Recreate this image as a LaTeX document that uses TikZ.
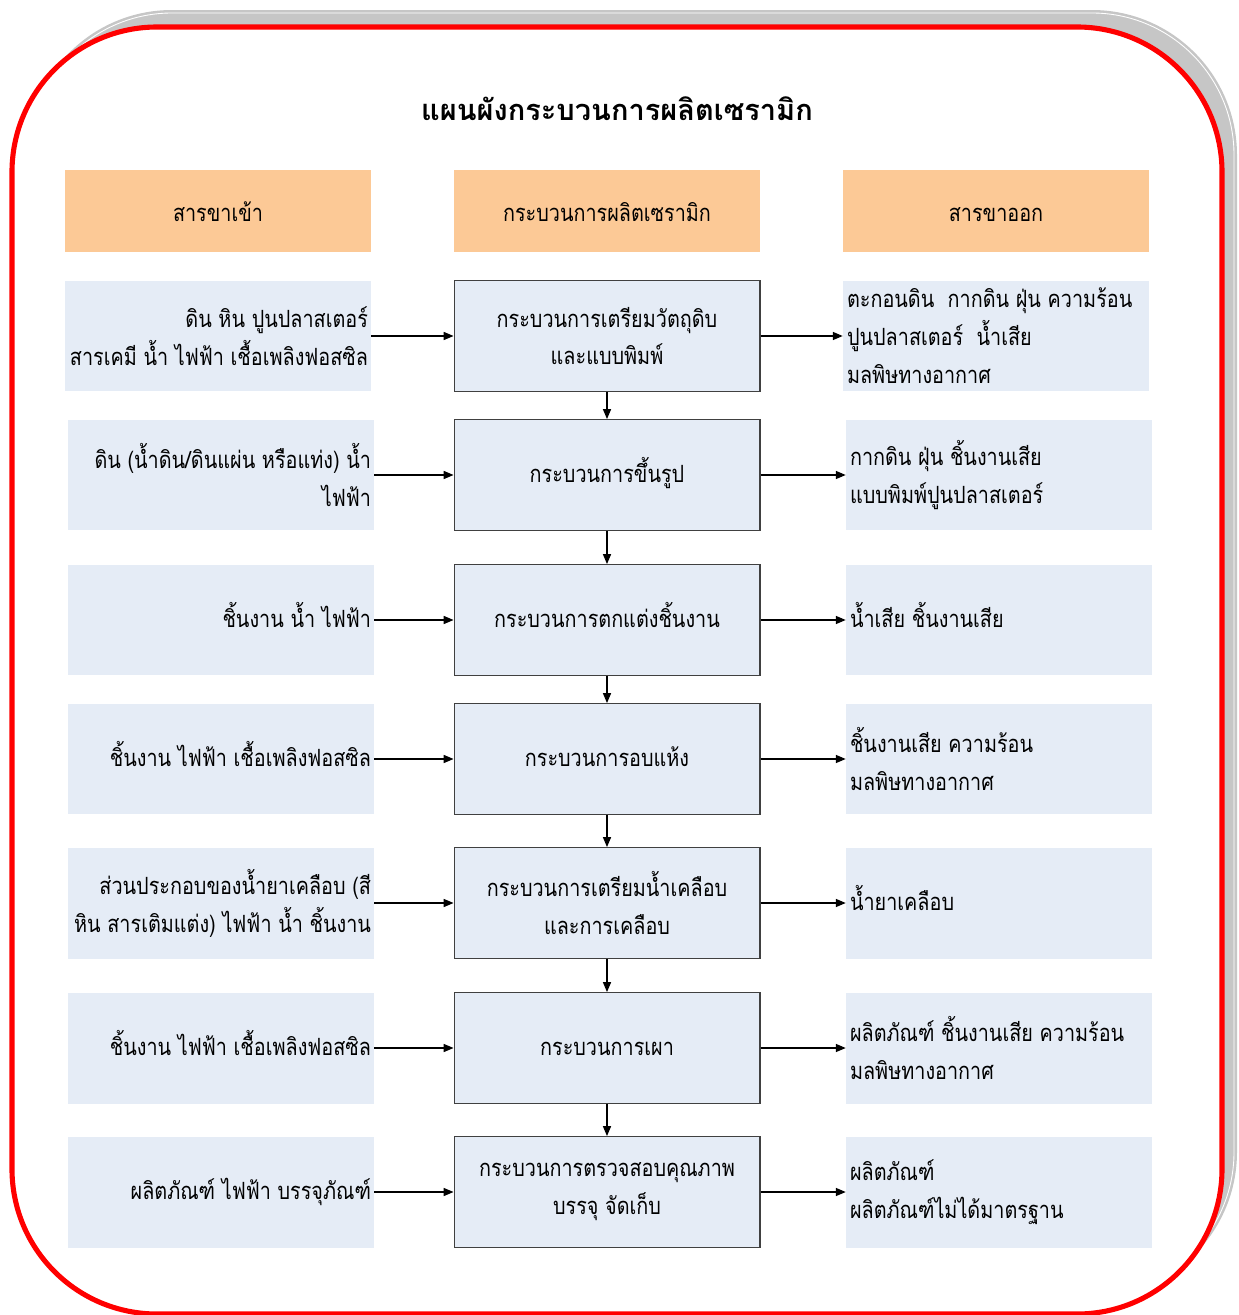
\documentclass[tikz,border=0pt]{standalone}
\usepackage{fontspec}
\usetikzlibrary{arrows.meta}
\newfontfamily\thaifont[Script=Thai,FakeStretch=0.835]{Loma}
\newfontfamily\thaititle[Script=Thai]{Loma}
\definecolor{headorange}{RGB}{252,201,150}
\definecolor{boxblue}{RGB}{229,236,246}
\definecolor{shadowgray}{RGB}{198,198,198}
\definecolor{framered}{RGB}{255,0,0}
\begin{document}
\begin{tikzpicture}[x=0.02cm,y=-0.02cm,
  every node/.style={font=\thaifont\fontsize{13.5}{21.6}\selectfont},
  oneline/.style={text height=11pt,text depth=3pt},
  header/.style={rectangle,fill=headorange,minimum width=6.12cm,minimum height=1.64cm,inner sep=0pt,
    text height=14pt,text depth=1.5pt},
  sidebox/.style={rectangle,fill=boxblue,minimum width=6.12cm,minimum height=2.22cm,inner sep=0pt},
  intext/.style={anchor=east,align=right,inner xsep=0.06cm,inner ysep=0pt},
  outtext/.style={anchor=west,align=left,inner xsep=0.08cm,inner ysep=0pt},
  procbox/.style={rectangle,fill=boxblue,draw=black!75,line width=0.6pt,
    minimum width=6.12cm,minimum height=2.22cm,inner sep=0pt,align=center},
  flow/.style={-{Triangle[length=5.6pt,width=4.6pt]},line width=0.6pt,black}]
\useasboundingbox (0,0) rectangle (1239,1315);

% frame with its offset shadow
\fill[shadowgray,rounded corners=145*0.02cm] (27,10) rectangle (1237,1297);
\draw[white,line width=0.5pt,rounded corners=142*0.02cm] (30,13) rectangle (1234,1294);
\draw[framered,fill=white,line width=2.9pt,rounded corners=145*0.02cm] (12,27) rectangle (1222,1314);

% title
\node (title) at (617,109) {\thaititle\fontsize{16.5}{22}\selectfont\bfseries แผนผังกระบวนการผลิตเซรามิก};

% column headers
\node[header] (hin)   at (218,211) {สารขาเข้า};
\node[header] (hproc) at (607,211) {กระบวนการผลิตเซรามิก};
\node[header] (hout)  at (996,211) {สารขาออก};

% row boxes: inputs, process steps, outputs
\node[sidebox] (in1)  at (218,336) {};
\node[procbox] (p1)   at (607,336) {กระบวนการเตรียมวัตถุดิบ\\และแบบพิมพ์};
\node[sidebox] (out1) at (996,336) {};
\foreach \i/\y in {2/475,3/620,4/759,5/903,6/1048,7/1192}{
  \node[sidebox] (in\i)  at (221,\y) {};
  \node[sidebox] (out\i) at (999,\y) {};
}
\node[procbox,oneline] (p2) at (607,475)  {กระบวนการขึ้นรูป};
\node[procbox,oneline] (p3) at (607,620)  {กระบวนการตกแต่งชิ้นงาน};
\node[procbox,oneline] (p4) at (607,759)  {กระบวนการอบแห้ง};
\node[procbox]         (p5) at (607,903)  {กระบวนการเตรียมน้ำเคลือบ\\และการเคลือบ};
\node[procbox,oneline] (p6) at (607,1048) {กระบวนการเผา};
\node[procbox]         (p7) at (607,1192) {กระบวนการตรวจสอบคุณภาพ\\บรรจุ จัดเก็บ};

% input texts, set flush right
\node[intext] (tin1) at (in1.east) {ดิน หิน ปูนปลาสเตอร์\\สารเคมี น้ำ ไฟฟ้า เชื้อเพลิงฟอสซิล};
\node[intext] (tin2) at (in2.east) {ดิน (น้ำดิน/ดินแผ่น หรือแท่ง) น้ำ\\ไฟฟ้า};
\node[intext,oneline] (tin3) at (in3.east) {ชิ้นงาน น้ำ ไฟฟ้า};
\node[intext,oneline] (tin4) at (in4.east) {ชิ้นงาน ไฟฟ้า เชื้อเพลิงฟอสซิล};
\node[intext] (tin5) at (in5.east) {ส่วนประกอบของน้ำยาเคลือบ (สี\\หิน สารเติมแต่ง) ไฟฟ้า น้ำ ชิ้นงาน};
\node[intext,oneline] (tin6) at (in6.east) {ชิ้นงาน ไฟฟ้า เชื้อเพลิงฟอสซิล};
\node[intext,oneline] (tin7) at (in7.east) {ผลิตภัณฑ์ ไฟฟ้า บรรจุภัณฑ์};

% output texts, set flush left
\node[outtext] (tout1) at (out1.west) {ตะกอนดิน\ \ กากดิน ฝุ่น ความร้อน\\ปูนปลาสเตอร์\ \ น้ำเสีย\\มลพิษทางอากาศ};
\node[outtext] (tout2) at (out2.west) {กากดิน ฝุ่น ชิ้นงานเสีย\\แบบพิมพ์ปูนปลาสเตอร์};
\node[outtext,oneline] (tout3) at (out3.west) {น้ำเสีย ชิ้นงานเสีย};
\node[outtext] (tout4) at (out4.west) {ชิ้นงานเสีย ความร้อน\\มลพิษทางอากาศ};
\node[outtext,oneline] (tout5) at (out5.west) {น้ำยาเคลือบ};
\node[outtext] (tout6) at (out6.west) {ผลิตภัณฑ์ ชิ้นงานเสีย ความร้อน\\มลพิษทางอากาศ};
\node[outtext] (tout7) at (out7.west) {ผลิตภัณฑ์\\ผลิตภัณฑ์ไม่ได้มาตรฐาน};

% inputs and outputs of every step
\foreach \i in {1,...,7}{
  \draw[flow] (in\i.east) -- (p\i.west);
  \draw[flow] (p\i.east) -- (out\i.west);
}
% process sequence
\foreach \i/\j in {1/2,2/3,3/4,4/5,5/6,6/7}{
  \draw[flow] (p\i.south) -- (p\j.north);
}
\end{tikzpicture}
\end{document}
